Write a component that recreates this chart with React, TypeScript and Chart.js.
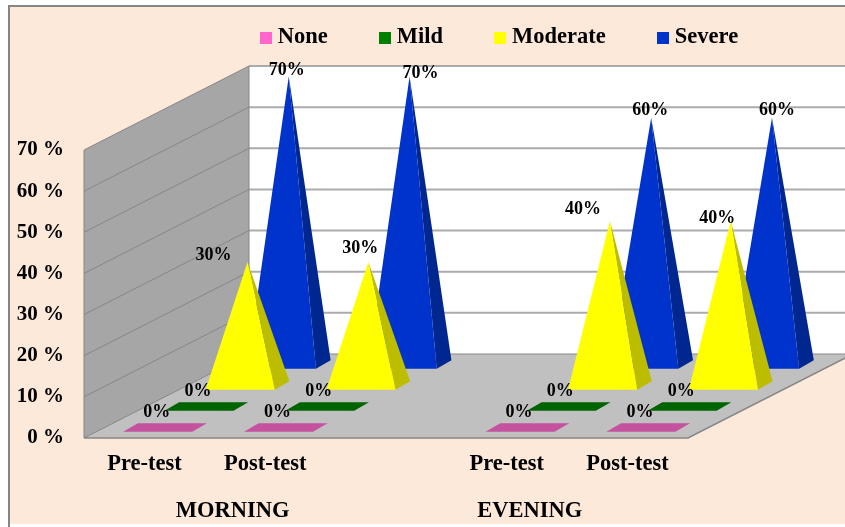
import { useEffect, useRef } from "react";
import { Chart, BarController, BarElement, CategoryScale, LinearScale, Legend } from "chart.js";

// Severity of pain, morning and evening, before and after the intervention.
const categories = ["Pre-test", "Post-test", "", "Pre-test", "Post-test"];
const severityNames = ["None", "Mild", "Moderate", "Severe"];
const noneValues = [0, 0, null, 0, 0];
const mildValues = [0, 0, null, 0, 0];
const moderateValues = [30, 30, null, 40, 40];
const severeValues = [70, 70, null, 60, 60];
const sessionNames = ["MORNING", "EVENING"];

const frontColors = ["#FF66CC", "#008000", "#FFFF00", "#0033CC"];
const sideColors = ["#C4529F", "#006400", "#BDBD00", "#00268F"];

const SERIF = '"Liberation Serif", serif';
const WALL_DX = 165;
const WALL_DY = 84;
const BASE_WIDTH = 69;
const BASE_DX = 14.7;
const BASE_DY = 8.3;
const LANE_DX = WALL_DX / 4;
const LANE_DY = WALL_DY / 4;

// Where one series/category pyramid sits on the receding floor.
function pyramidAt(chart: any, lane: number, index: number, value: number) {
  const { x: xs, y: ys } = chart.scales;
  const floorY = ys.getPixelForValue(0);
  const fx = xs.getPixelForValue(index) - BASE_WIDTH / 2 + lane * LANE_DX + (LANE_DX - BASE_DX) / 2;
  const fy = floorY - lane * LANE_DY - (LANE_DY - BASE_DY) / 2;
  const rise = floorY - ys.getPixelForValue(value);
  return {
    fx,
    fy,
    apexX: fx + (BASE_WIDTH + BASE_DX) / 2,
    apexY: fy - BASE_DY / 2 - rise,
  };
}

function fillPolygon(ctx: CanvasRenderingContext2D, color: string, pts: number[][]) {
  ctx.beginPath();
  pts.forEach(([px, py], i) => (i ? ctx.lineTo(px, py) : ctx.moveTo(px, py)));
  ctx.closePath();
  ctx.fillStyle = color;
  ctx.fill();
}

// Bar controller whose marks are square pyramids; zero values stay a flat base.
class PyramidController extends BarController {
  static id = "pyramid";
  static defaults = BarController.defaults;
  static overrides = BarController.overrides;

  draw() {
    const chart = this.chart as any;
    const ctx = chart.ctx;
    const lane = this.index;
    const data = chart.data.datasets[lane].data;
    data.forEach((value: number | null, i: number) => {
      if (value === null) return;
      const { fx, fy, apexX, apexY } = pyramidAt(chart, lane, i, value);
      const frx = fx + BASE_WIDTH;
      if (value === 0) {
        fillPolygon(ctx, sideColors[lane], [
          [fx, fy],
          [frx, fy],
          [frx + BASE_DX, fy - BASE_DY],
          [fx + BASE_DX, fy - BASE_DY],
        ]);
        return;
      }
      fillPolygon(ctx, sideColors[lane], [
        [frx, fy],
        [frx + BASE_DX, fy - BASE_DY],
        [apexX, apexY],
      ]);
      fillPolygon(ctx, frontColors[lane], [
        [fx, fy],
        [frx, fy],
        [apexX, apexY],
      ]);
    });
  }
}

Chart.register(PyramidController, BarElement, CategoryScale, LinearScale, Legend);

// Page frame, side wall, back wall, floor and the gridlines on both walls.
const roomPlugin = {
  id: "room",
  beforeDraw(chart: any) {
    const { ctx, width, height } = chart;
    const { x: xs, y: ys } = chart.scales;
    const left = xs.left;
    const right = xs.right;
    const floorY = ys.getPixelForValue(0);
    const roofY = ys.getPixelForValue(70);

    ctx.save();
    ctx.fillStyle = "#FFFFFF";
    ctx.fillRect(0, 0, width, height);
    ctx.fillStyle = "#FDE9D9";
    ctx.fillRect(9, 6, width - 9, height - 9);
    ctx.strokeStyle = "#868686";
    ctx.lineWidth = 2;
    ctx.beginPath();
    ctx.moveTo(width, 6);
    ctx.lineTo(9, 6);
    ctx.lineTo(9, height);
    ctx.stroke();

    // Back wall
    ctx.fillStyle = "#FFFFFF";
    ctx.fillRect(left + WALL_DX, roofY - WALL_DY, width, floorY - roofY);

    // Side wall
    fillPolygon(ctx, "#A6A6A6", [
      [left, roofY],
      [left + WALL_DX, roofY - WALL_DY],
      [left + WALL_DX, floorY - WALL_DY],
      [left, floorY],
    ]);

    // Floor
    fillPolygon(ctx, "#C0C0C0", [
      [left, floorY],
      [right, floorY],
      [right + WALL_DX, floorY - WALL_DY],
      [left + WALL_DX, floorY - WALL_DY],
    ]);

    ys.ticks.forEach((tick: any) => {
      const py = ys.getPixelForValue(tick.value);
      if (tick.value > 0) {
        ctx.strokeStyle = "#ABABAB";
        ctx.lineWidth = 2;
        ctx.beginPath();
        ctx.moveTo(left + WALL_DX, py - WALL_DY);
        ctx.lineTo(width, py - WALL_DY);
        ctx.stroke();
      }
      ctx.strokeStyle = "#868686";
      ctx.lineWidth = 1;
      ctx.beginPath();
      ctx.moveTo(left, py);
      ctx.lineTo(left + WALL_DX, py - WALL_DY);
      ctx.stroke();
    });

    ctx.strokeStyle = "#868686";
    ctx.lineWidth = 1;
    ctx.beginPath();
    ctx.moveTo(left + WALL_DX, roofY - WALL_DY);
    ctx.lineTo(left + WALL_DX, floorY - WALL_DY);
    ctx.lineTo(width, floorY - WALL_DY);
    ctx.moveTo(left, roofY);
    ctx.lineTo(left, floorY);
    ctx.stroke();

    ctx.lineWidth = 1.5;
    ctx.beginPath();
    ctx.moveTo(left, floorY);
    ctx.lineTo(right, floorY);
    ctx.lineTo(right + WALL_DX, floorY - WALL_DY);
    ctx.stroke();
    ctx.restore();
  },
};

// The value labels were placed by hand around each apex: [lane][category] = [dx, dy].
const labelShift: number[][][] = [
  [[0, 0], [0, 0], [], [0, 0], [0, 0]],
  [[0, 0], [0, 0], [], [0, 0], [0, 0]],
  [[-34, -6.5], [-8, -14], [], [-27, -12], [-13.5, -3]],
  [[-2, -6], [11, -3], [], [-1, -7], [5, -7]],
];

const valueLabelPlugin = {
  id: "valueLabels",
  afterDatasetsDraw(chart: any) {
    const { ctx } = chart;
    ctx.save();
    ctx.font = `bold 18px ${SERIF}`;
    ctx.fillStyle = "#000000";
    ctx.textAlign = "center";
    ctx.textBaseline = "middle";
    chart.data.datasets.forEach((ds: any, lane: number) => {
      ds.data.forEach((value: number | null, i: number) => {
        if (value === null) return;
        const { fx, fy, apexX, apexY } = pyramidAt(chart, lane, i, value);
        const text = `${value}%`;
        if (value === 0) {
          ctx.fillText(text, fx + 33.5, fy - 19);
        } else {
          const [dx, dy] = labelShift[lane][i];
          ctx.fillText(text, apexX + dx, apexY + dy);
        }
      });
    });
    ctx.restore();
  },
};

// Session captions under the category labels, plus the legend's place above the room.
const captionPlugin = {
  id: "captions",
  afterLayout(chart: any) {
    const legend = chart.legend;
    legend.left = 208.7;
    legend.right = 1200;
    legend.top = -30.5;
  },
  afterDraw(chart: any) {
    const { ctx } = chart;
    const { x: xs } = chart.scales;
    const y = 511;
    ctx.save();
    ctx.font = `bold 22.5px ${SERIF}`;
    ctx.fillStyle = "#000000";
    ctx.textAlign = "center";
    ctx.textBaseline = "middle";
    ctx.fillText(sessionNames[0], xs.getPixelForValue(0.73), y);
    ctx.fillText(sessionNames[1], xs.getPixelForValue(3.19), y);
    ctx.restore();
  },
};

function swatch(color: string) {
  const c = document.createElement("canvas");
  c.width = 12;
  c.height = 12;
  const g = c.getContext("2d")!;
  g.fillStyle = color;
  g.fillRect(0, 0, 12, 12);
  return c;
}

export default function App() {
  const ref = useRef<HTMLCanvasElement>(null);

  useEffect(() => {
    const series = [noneValues, mildValues, moderateValues, severeValues];
    const chart = new Chart(ref.current!, {
      type: "pyramid" as any,
      data: {
        labels: categories,
        datasets: severityNames.map((label, i) => ({
          label,
          data: series[i],
          backgroundColor: frontColors[i],
          clip: false,
        })),
      },
      plugins: [roomPlugin, valueLabelPlugin, captionPlugin],
      options: {
        animation: false,
        responsive: false,
        events: [],
        layout: { padding: { top: 149, right: 157, left: 0, bottom: 0 } },
        scales: {
          x: {
            type: "category",
            offset: true,
            grid: { display: false },
            border: { display: false },
            afterFit: (s: any) => {
              s.height = 89;
            },
            ticks: {
              autoSkip: false,
              maxRotation: 0,
              padding: 5,
              color: "#000000",
              font: { family: SERIF, size: 22.5, weight: "bold" },
            },
          },
          y: {
            type: "linear",
            min: 0,
            max: 70,
            grid: { display: false },
            border: { display: false },
            afterFit: (s: any) => {
              s.width = 84;
            },
            ticks: {
              stepSize: 10,
              padding: 12,
              color: "#000000",
              font: { family: SERIF, size: 21, weight: "bold" },
              callback: (v: any) => `${v} %`,
            },
          },
        },
        plugins: {
          legend: {
            position: "top",
            align: "start",
            maxHeight: 1,
            labels: {
              usePointStyle: true,
              boxWidth: 1,
              padding: 56.8,
              color: "#000000",
              font: { family: SERIF, size: 22.5, weight: "bold" },
              generateLabels: () =>
                severityNames.map((text, i) => ({
                  text,
                  pointStyle: swatch(frontColors[i]),
                  fontColor: "#000000",
                  datasetIndex: i,
                  hidden: false,
                })),
            },
          },
        },
      } as any,
    });
    return () => chart.destroy();
  }, []);

  return (
    <div style={{ position: "absolute", left: 0, top: 0, width: 845, height: 527 }}>
      <canvas ref={ref} width={845} height={527} style={{ display: "block" }} />
    </div>
  );
}
